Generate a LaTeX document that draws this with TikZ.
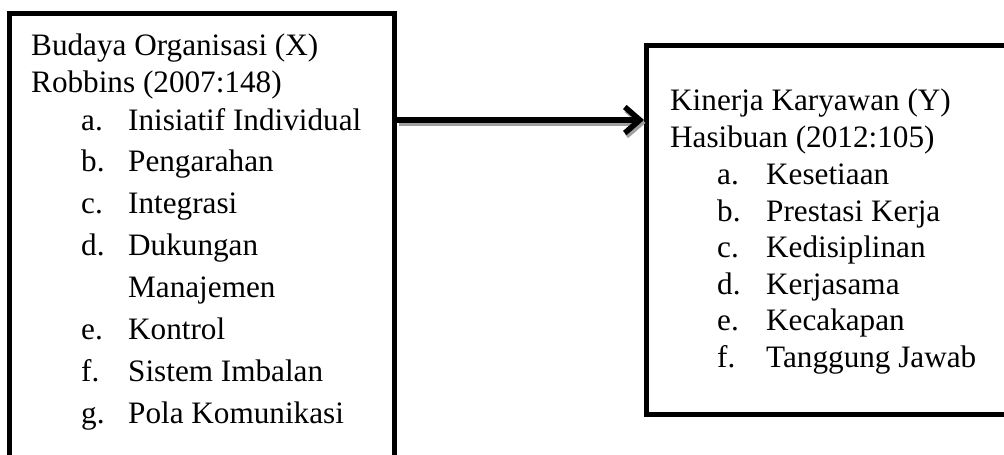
\documentclass[tikz,border=0pt]{standalone}
\usepackage{fontspec}
\setmainfont{Liberation Serif}
\usetikzlibrary{arrows.meta}
\tikzset{
  box/.style={draw=black,line width=5pt,inner sep=0pt,rectangle},
  txt/.style={anchor=base west,inner sep=0pt,font=\fontsize{31.2}{37}\selectfont},
  tip/.style={line width=5.5pt,-{Straight Barb[length=15pt,width=26pt]}},
}
\newcommand{\lx}[2]{\makebox[47pt][l]{#1}#2}
\newcommand{\rx}[2]{\makebox[49pt][l]{#1}#2}

\begin{document}
\begin{tikzpicture}[x=1pt,y=-1pt]
\clip (0,0) rectangle (1004,455);
\fill[white] (0,0) rectangle (1004,455);
\node[box,minimum width=385pt,minimum height=486.5pt] (bx) at (202,256.75) {};
\node[box,minimum width=393.5pt,minimum height=369.5pt] (by) at (843.25,229.75) {};
\coordinate (ar) at (0,120);
\coordinate (sh) at (0,123);
\draw[tip,gray!75] ([xshift=1.5pt]bx.east |- sh) -- ([xshift=1.5pt]by.west |- sh);
\draw[tip,black] (bx.east |- ar) -- (by.west |- ar);
% variabel X
\node[txt] (x1) at (31,55) {Budaya Organisasi (X)};
\node[txt] (x2) at (31,92) {Robbins (2007:148)};
\node[txt] (x3) at (81,130) {\lx{a.}{Inisiatif Individual}};
\node[txt] (x4) at (81,171.9) {\lx{b.}{Pengarahan}};
\node[txt] (x5) at (81,213.7) {\lx{c.}{Integrasi}};
\node[txt] (x6) at (81,255.6) {\lx{d.}{Dukungan}};
\node[txt] (x7) at (81,297.4) {\lx{}{Manajemen}};
\node[txt] (x8) at (81,339.3) {\lx{e.}{Kontrol}};
\node[txt] (x9) at (81,381.1) {\lx{f.}{Sistem Imbalan}};
\node[txt] (x10) at (81,423) {\lx{g.}{Pola Komunikasi}};
% variabel Y
\node[txt] (y1) at (670,110) {Kinerja Karyawan (Y)};
\node[txt] (y2) at (670,147) {Hasibuan (2012:105)};
\node[txt] (y3) at (717,184) {\rx{a.}{Kesetiaan}};
\node[txt] (y4) at (717,221) {\rx{b.}{Prestasi Kerja}};
\node[txt] (y5) at (717,257.5) {\rx{c.}{Kedisiplinan}};
\node[txt] (y6) at (717,294) {\rx{d.}{Kerjasama}};
\node[txt] (y7) at (717,330.5) {\rx{e.}{Kecakapan}};
\node[txt] (y8) at (717,367) {\rx{f.}{Tanggung Jawab}};
\end{tikzpicture}
\end{document}
